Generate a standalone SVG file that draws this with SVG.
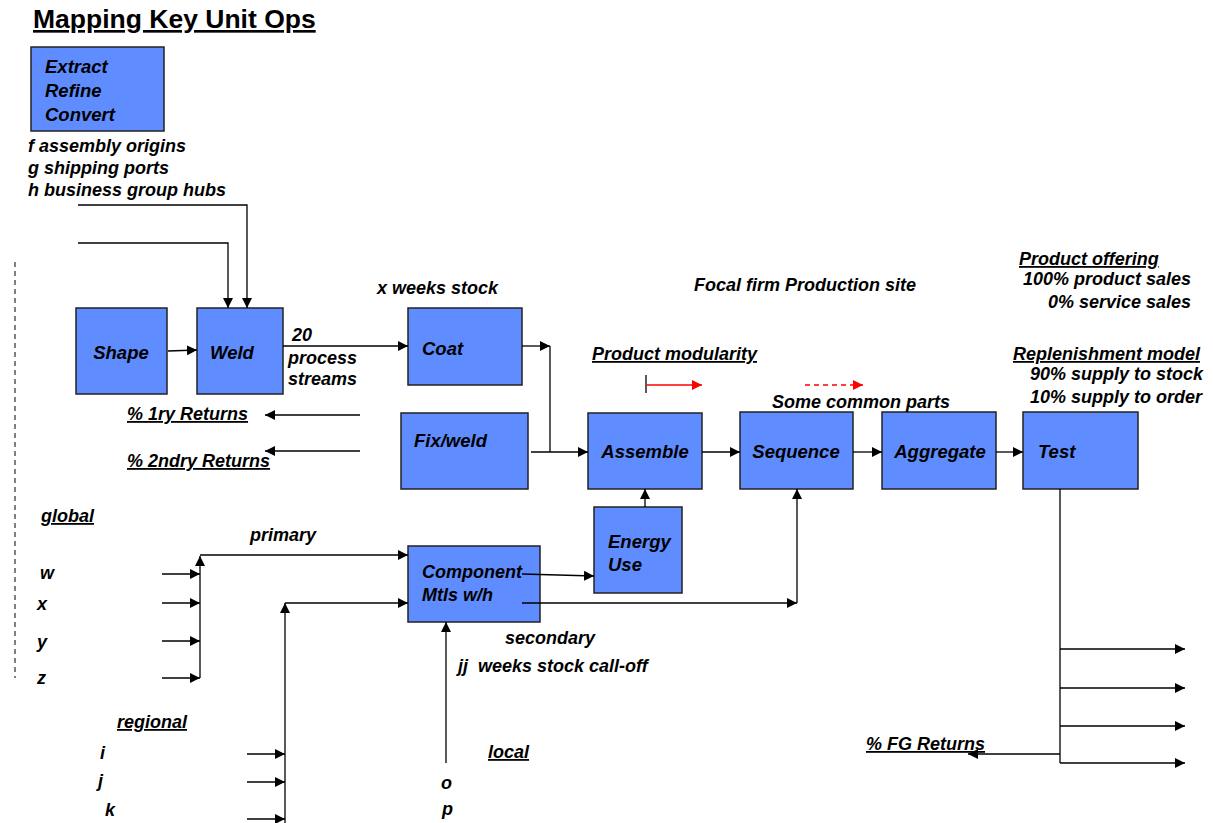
<svg xmlns="http://www.w3.org/2000/svg" width="1213" height="823" viewBox="0 0 1213 823">
<style>
text{font-family:"Liberation Sans",Arial,sans-serif;font-weight:bold;font-style:italic;font-size:18px;fill:#000}
.title{font-style:normal;font-size:26.5px;text-decoration:underline}
.u{text-decoration:underline}
.n{font-size:18.5px}
.box{fill:#5f8cff;stroke:#222;stroke-width:1.5}
.c{fill:none;stroke:#000;stroke-width:1.3}
.r{fill:none;stroke:#f00;stroke-width:1.3}
</style>
<defs>
<marker id="a" viewBox="0 0 10 10" refX="10" refY="5" markerWidth="10" markerHeight="10" markerUnits="userSpaceOnUse" orient="auto"><path d="M0,0L10,5L0,10z" fill="#000"/></marker>
<marker id="ar" viewBox="0 0 10 10" refX="10" refY="5" markerWidth="10" markerHeight="10" markerUnits="userSpaceOnUse" orient="auto"><path d="M0,0L10,5L0,10z" fill="#f00"/></marker>
</defs>
<rect width="1213" height="823" fill="#fff"/>
<text class="title" x="33" y="28">Mapping Key Unit Ops</text>

<g id="extract"><rect class="box" x="31" y="47" width="133" height="84"/><text class="n" x="45" y="73">Extract</text><text class="n" x="45" y="97">Refine</text><text class="n" x="45" y="121">Convert</text></g>
<text x="28" y="152">f assembly origins</text>
<text x="28" y="174">g shipping ports</text>
<text x="28" y="196">h business group hubs</text>

<g id="shape"><rect class="box" x="76" y="308" width="91" height="86"/><text class="n" x="121" y="359" text-anchor="middle">Shape</text></g>
<g id="weld"><rect class="box" x="197" y="308" width="86" height="86"/><text class="n" x="210" y="359">Weld</text></g>
<g id="coat"><rect class="box" x="408" y="308" width="114" height="77"/><text class="n" x="422" y="355">Coat</text></g>
<g id="fixweld"><rect class="box" x="401" y="413" width="127" height="76"/><text class="n" x="414" y="447">Fix/weld</text></g>
<g id="assemble"><rect class="box" x="588" y="413" width="114" height="76"/><text class="n" x="645" y="458" text-anchor="middle">Assemble</text></g>
<g id="sequence"><rect class="box" x="740" y="412" width="113" height="77"/><text class="n" x="796" y="458" text-anchor="middle">Sequence</text></g>
<g id="aggregate"><rect class="box" x="882" y="412" width="114" height="77"/><text class="n" x="940" y="458" text-anchor="middle">Aggregate</text></g>
<g id="test"><rect class="box" x="1023" y="412" width="115" height="77"/><text class="n" x="1038" y="458">Test</text></g>
<g id="component"><rect class="box" x="408" y="546" width="132" height="76"/><text x="422" y="578">Component</text><text x="422" y="601">Mtls w/h</text></g>
<g id="energy"><rect class="box" x="594" y="507" width="88" height="86"/><text class="n" x="608" y="548">Energy</text><text class="n" x="608" y="571">Use</text></g>

<g id="labels">
<text x="292" y="341">20</text>
<text x="288" y="364">process</text>
<text x="288" y="385">streams</text>
<text x="377" y="294">x weeks stock</text>
<text x="694" y="291">Focal firm Production site</text>
<text class="u" x="592" y="360">Product modularity</text>
<text x="772" y="408">Some common parts</text>
<text class="u" x="1019" y="265">Product offering</text>
<text x="1191" y="285" text-anchor="end">100% product sales</text>
<text x="1191" y="308" text-anchor="end">0% service sales</text>
<text class="u" x="1013" y="360">Replenishment model</text>
<text x="1203" y="380" text-anchor="end">90% supply to stock</text>
<text x="1202" y="403" text-anchor="end">10% supply to order</text>
<text class="u" x="127" y="420">% 1ry Returns</text>
<text class="u" x="127" y="467">% 2ndry Returns</text>
<text class="u" x="41" y="522">global</text>
<text x="40" y="579">w</text>
<text x="37" y="610">x</text>
<text x="37" y="648">y</text>
<text x="37" y="684">z</text>
<text x="250" y="541">primary</text>
<text class="u" x="117" y="728">regional</text>
<text x="100" y="759">i</text>
<text x="98" y="787">j</text>
<text x="105" y="816">k</text>
<text x="505" y="644">secondary</text>
<text x="458" y="672" xml:space="preserve">jj  weeks stock call-off</text>
<text class="u" x="488" y="758">local</text>
<text x="441" y="789">o</text>
<text x="442" y="815">p</text>
<text class="u" x="866" y="750">% FG Returns</text>
</g>

<g id="connectors">
<line x1="15" y1="262" x2="15" y2="678" stroke="#000" stroke-width="1" stroke-dasharray="5,4"/>
<path class="c" d="M78,205H247V308" marker-end="url(#a)"/>
<path class="c" d="M78,243H228V308" marker-end="url(#a)"/>
<path class="c" d="M168,351L197,350" marker-end="url(#a)"/>
<path class="c" d="M283,346H408" marker-end="url(#a)"/>
<path class="c" d="M360,415H265" marker-end="url(#a)"/>
<path class="c" d="M360,451H265" marker-end="url(#a)"/>
<path class="c" d="M522,346H550" marker-end="url(#a)"/>
<path class="c" stroke-width="2" d="M550,346V452"/>
<path class="c" stroke-width="2" d="M531,452H588" marker-end="url(#a)"/>
<path class="c" d="M702,452H740" marker-end="url(#a)"/>
<path class="c" d="M853,452H882" marker-end="url(#a)"/>
<path class="c" d="M996,452H1023" marker-end="url(#a)"/>
<path class="c" stroke-width="2" d="M646,375V393"/>
<path class="r" d="M647,385H702" marker-end="url(#ar)"/>
<path class="r" d="M805,385H863" stroke-dasharray="5,4" marker-end="url(#ar)"/>
<path class="c" d="M162,574H200" marker-end="url(#a)"/>
<path class="c" d="M162,603H200" marker-end="url(#a)"/>
<path class="c" d="M162,641H200" marker-end="url(#a)"/>
<path class="c" d="M162,678H200" marker-end="url(#a)"/>
<path class="c" d="M200,678V556" marker-end="url(#a)"/>
<path class="c" d="M200,555H408" marker-end="url(#a)"/>
<path class="c" d="M247,754H285" marker-end="url(#a)"/>
<path class="c" d="M247,782H285" marker-end="url(#a)"/>
<path class="c" d="M247,819H285" marker-end="url(#a)"/>
<path class="c" d="M285,823V603" marker-end="url(#a)"/>
<path class="c" d="M285,603H408" marker-end="url(#a)"/>
<path class="c" d="M522,574L594,576" marker-end="url(#a)"/>
<path class="c" d="M645,507V489" marker-end="url(#a)"/>
<path class="c" d="M522,603H797" marker-end="url(#a)"/>
<path class="c" d="M797,603V489" marker-end="url(#a)"/>
<path class="c" d="M446,763V622" marker-end="url(#a)"/>
<path class="c" stroke-width="2" d="M1060,489V763"/>
<path class="c" d="M1060,649H1185" marker-end="url(#a)"/>
<path class="c" d="M1060,688H1185" marker-end="url(#a)"/>
<path class="c" d="M1060,726H1185" marker-end="url(#a)"/>
<path class="c" d="M1060,763H1185" marker-end="url(#a)"/>
<path class="c" d="M1060,754H968" marker-end="url(#a)"/>
</g>
</svg>
